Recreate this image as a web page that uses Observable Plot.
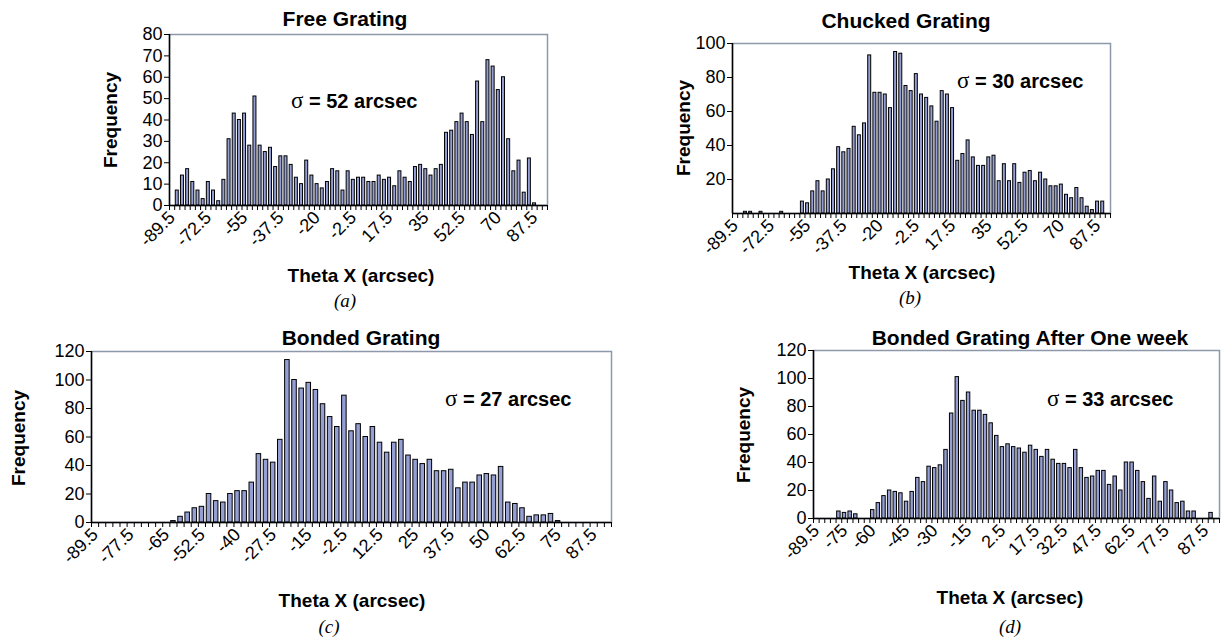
<!DOCTYPE html>
<html><head><meta charset="utf-8">
<script src="https://cdn.jsdelivr.net/npm/d3@7"></script>
<script src="https://cdn.jsdelivr.net/npm/@observablehq/plot@0.6"></script>
<style>
body{margin:0;background:#fff;width:1229px;height:639px;position:relative;overflow:hidden;font-family:"Liberation Sans",Arial,sans-serif;color:#000}
.t{position:absolute;white-space:nowrap;font-weight:bold;transform:translate(-50%,-50%);line-height:1}
.s{position:absolute;white-space:nowrap;font-weight:bold;transform:translate(0,-50%);line-height:1;font-size:20px}
.s span{font-family:"Liberation Serif",serif;font-weight:normal;font-size:23px}
.fy{position:absolute;white-space:nowrap;font-weight:bold;transform:translate(-50%,-50%) rotate(-90deg);line-height:1;font-size:19px}
.cap{position:absolute;font-family:"Liberation Serif",serif;font-style:italic;font-size:19px;transform:translate(-50%,-50%);line-height:1}
.p{position:absolute}
</style></head><body>
<script>
// ---- data ----
const freeValues = [0,7,14,17,11,7,3,11,7,2,12,31,43,40,43,28,51,28,25,27,18,23,23,19,13,10,21,14,10,8,11,17,16,7,16,12,13,13,11,11,14,12,13,9,16,13,11,18,19,17,14,17,19,34,35,39,43,39,33,58,39,68,65,54,60,31,16,21,6,22,1,0,0];
const chuckedValues = [0,0,1,1,0,1,0,0,0,1,0,0,0,7,6,13,19,13,20,26,39,36,38,51,46,53,93,71,71,70,62,95,94,75,72,82,70,68,63,54,72,70,62,31,35,43,33,28,28,33,34,19,29,19,29,18,24,25,19,24,20,16,16,17,11,9,15,9,4,2,7,7,0];
const bondedValues = [0,0,0,0,0,0,0,0,0,0,0,1,4,7,10,11,20,15,14,20,22,22,28,48,44,42,58,114,100,94,98,93,83,74,67,89,64,69,60,67,56,49,56,58,47,44,41,44,36,36,37,24,28,28,33,34,33,39,14,13,10,4,5,5,6,1,0,0,0,0,0,0,0];
const weekValues = [0,0,0,0,5,4,5,3,0,0,6,11,16,20,19,18,12,19,29,26,37,36,38,49,75,101,84,90,77,77,74,68,59,51,53,51,50,47,52,49,44,49,42,39,39,36,49,36,29,30,34,34,24,30,20,40,40,34,26,14,30,12,26,20,11,12,5,5,0,0,4,0];

const labelsAB = ["-89.5","-72.5","-55","-37.5","-20","-2.5","17.5","35","52.5","70","87.5"];
const labelIdxAB = [0,7,14,21,28,35,42,49,56,63,70];
const labelsC = ["-89.5","-77.5","-65","-52.5","-40","-27.5","-15","-2.5","12.5","25","37.5","50","62.5","75","87.5"];
const labelIdxC = [0,5,10,15,20,25,30,35,40,45,50,55,60,65,70];
const labelsD = ["-89.5","-75","-60","-45","-30","-15","2.5","17.5","32.5","47.5","62.5","77.5","87.5"];
const labelIdxD = [0,5,10,16,21,27,33,39,44,50,56,62,69];

const yTicksA = [0,10,20,30,40,50,60,70,80];
const yTicksB = [20,40,60,80,100];
const yTicksC = [0,20,40,60,80,100,120];
const yTicksD = [0,20,40,60,80,100,120];

const titles = ["Free Grating","Chucked Grating","Bonded Grating","Bonded Grating After One week"];
const sigmas = ["52","30","27","33"];
const captions = ["(a)","(b)","(c)","(d)"];
const xLabel = "Theta X (arcsec)";
const yLabel = "Frequency";

// ---- drawing ----
function panel(o) {
  const n = o.values.length;
  const data = o.values.map((v, i) => ({i, v}));
  const labelMap = new Map(o.labelIdx.map((k, j) => [k + 0.5, o.labels[j]]));
  const svg = Plot.plot({
    width: o.width, height: o.height,
    marginLeft: o.ml, marginRight: o.mr, marginTop: o.mt, marginBottom: o.mb,
    style: {fontFamily: "Liberation Sans, Arial, sans-serif", fontSize: "16px", color: "#000", background: "transparent", overflow: "visible"},
    x: {domain: [0, n]},
    y: {domain: [0, o.yMax]},
    marks: [
      Plot.frame({stroke: "#8d99aa", strokeWidth: 1.5}),
      Plot.rectY(data, {x1: "i", x2: d => d.i + 1, y1: 0, y2: "v", fill: "#959fd4", stroke: "#000", strokeWidth: 1, insetLeft: o.inset, insetRight: o.inset}),
      Plot.axisY(o.yTicks, {tickSize: 5, fontSize: 18, label: null, tickPadding: 2, stroke: "#000", strokeOpacity: 1}),
      Plot.axisX(d3.range(n + 1), {tickSize: 5, tickFormat: () => "", label: null, stroke: "#000", strokeOpacity: 1}),
      Plot.axisX([...labelMap.keys()], {tickSize: 0, tickPadding: 9, tickRotate: -45, textAnchor: "end", fontSize: 18, tickFormat: d => labelMap.get(d), label: null}),
      Plot.ruleX([0], {stroke: "#000", strokeWidth: 1.5}),
      Plot.ruleY([0], {stroke: "#000", strokeWidth: 1.5})
    ]
  });
  const wrap = document.createElement("div");
  wrap.className = "p";
  wrap.style.left = o.left + "px";
  wrap.style.top = o.top + "px";
  wrap.appendChild(svg);
  document.body.appendChild(wrap);
}

function text(cls, html, x, y, size) {
  const d = document.createElement("div");
  d.className = cls;
  d.innerHTML = html;
  d.style.left = x + "px";
  d.style.top = y + "px";
  if (size) d.style.fontSize = size + "px";
  document.body.appendChild(d);
}

panel({values: freeValues, yMax: 80, yTicks: yTicksA, labels: labelsAB, labelIdx: labelIdxAB,
  left: 100, top: 20, width: 460, height: 245, ml: 69, mr: 13, mt: 14, mb: 60, inset: 1.1});
panel({values: chuckedValues, yMax: 100, yTicks: yTicksB, labels: labelsAB, labelIdx: labelIdxAB,
  left: 660, top: 25, width: 462, height: 248, ml: 72, mr: 12, mt: 18, mb: 60, inset: 1.1});
panel({values: bondedValues, yMax: 120, yTicks: yTicksC, labels: labelsC, labelIdx: labelIdxC,
  left: 20, top: 335, width: 603, height: 247, ml: 71, mr: 12, mt: 16, mb: 60, inset: 1.3});
panel({values: weekValues, yMax: 120, yTicks: yTicksD, labels: labelsD, labelIdx: labelIdxD,
  left: 740, top: 335, width: 489, height: 243, ml: 73, mr: 10, mt: 15, mb: 60, inset: 1.1});

// titles
text("t", titles[0], 345, 18, 21);
text("t", titles[1], 906, 20, 21);
text("t", titles[2], 361, 337, 21);
text("t", titles[3], 1030, 337, 21);
// sigma notes
text("s", "<span>σ</span> = " + sigmas[0] + " arcsec", 291, 100);
text("s", "<span>σ</span> = " + sigmas[1] + " arcsec", 957, 80);
text("s", "<span>σ</span> = " + sigmas[2] + " arcsec", 445, 398);
text("s", "<span>σ</span> = " + sigmas[3] + " arcsec", 1047, 398);
// y labels
text("fy", yLabel, 110, 120);
text("fy", yLabel, 683, 128);
text("fy", yLabel, 18, 438);
text("fy", yLabel, 743, 435);
// x labels
text("t", xLabel, 361, 275, 19);
text("t", xLabel, 922, 272, 19);
text("t", xLabel, 352, 600, 19);
text("t", xLabel, 1010, 597, 19);
// captions
text("cap", captions[0], 345, 300);
text("cap", captions[1], 910, 297);
text("cap", captions[2], 329, 626);
text("cap", captions[3], 1010, 626);
</script>
</body></html>
